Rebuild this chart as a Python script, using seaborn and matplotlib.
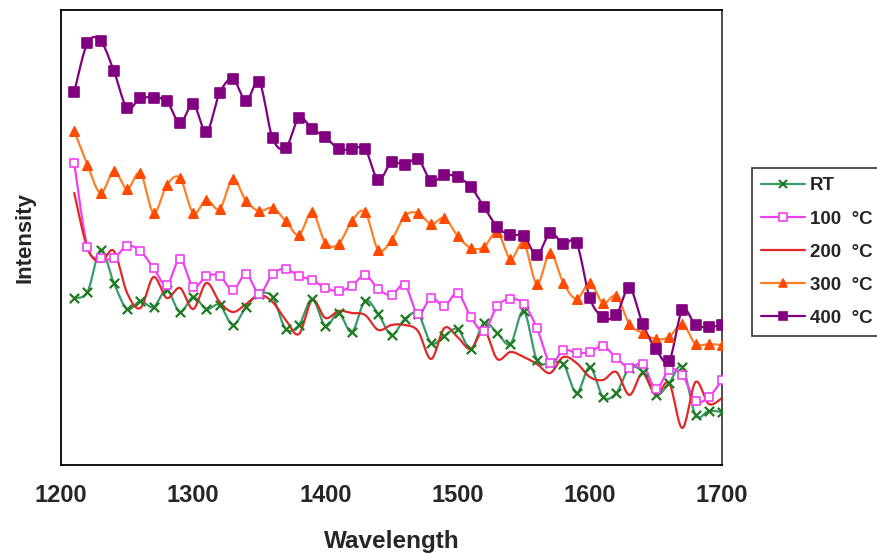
import numpy as np
import pandas as pd
import matplotlib
matplotlib.use("Agg")
import matplotlib.pyplot as plt
from matplotlib.lines import Line2D
import seaborn as sns

# ---------------- data ----------------
wavelength = list(range(1210, 1701, 10))

rt = [167, 173, 215, 182, 156, 164, 158, 175, 153, 168,
      156, 160, 140, 158, 171, 168, 136, 140, 166, 139,
      152, 133, 164, 151, 130, 146, 151, 122, 129, 136,
      116, 142, 132, 121, 154, 105, 102, 101, 72, 98,
      68, 72, 97, 93, 70, 82, 98, 50, 54, 53]

c100 = [302, 218, 207, 207, 219, 214, 197, 180, 206, 178,
        189, 189, 175, 191, 171, 191, 196, 189, 185, 177,
        174, 179, 190, 176, 170, 180, 151, 167, 159, 172,
        148, 134, 159, 166, 161, 137, 102, 115, 112, 113,
        119, 107, 97, 101, 76, 95, 90, 64, 68, 85]

c200 = [272, 217, 203, 214, 172, 157, 188, 167, 177, 156,
        182, 163, 153, 161, 170, 163, 145, 131, 165, 147,
        154, 152, 150, 135, 140, 140, 134, 106, 137, 128,
        116, 135, 106, 113, 108, 101, 92, 108, 102, 88,
        85, 93, 70, 92, 70, 82, 37, 83, 61, 67]

c300 = [334, 300, 272, 294, 276, 292, 252, 280, 287, 252,
        265, 256, 286, 264, 254, 257, 244, 230, 253, 222,
        221, 244, 253, 215, 225, 249, 252, 241, 247, 229,
        217, 218, 233, 206, 222, 181, 212, 182, 166, 182,
        162, 169, 141, 132, 126, 128, 141, 121, 121, 120]

c400 = [373, 422, 424, 394, 357, 367, 367, 364, 342, 361,
        333, 372, 386, 364, 383, 327, 317, 347, 336, 328,
        316, 316, 316, 285, 303, 300, 306, 284, 290, 288,
        278, 258, 238, 230, 229, 210, 232, 221, 222, 167,
        148, 150, 177, 141, 116, 104, 155, 140, 138, 140]

series_names = ["RT", "100  \u00b0C", "200  \u00b0C", "300  \u00b0C", "400  \u00b0C"]
series_values = [rt, c100, c200, c300, c400]

x_ticks = [1200, 1300, 1400, 1500, 1600, 1700]
y_ticks = [0, 91, 182, 273, 364, 455]

# ---------------- styles ----------------
line_colors = ["#3a9a6a", "#f040f0", "#e02828", "#ff7f27", "#800080"]
marker_colors = ["#1f7a1f", "#f040f0", "#ff4a00", "#ff4a00", "#800080"]
marker_face = ["#1f7a1f", "white", None, "#ff4a00", "#800080"]
markers = ["x", "s", None, "^", "s"]
marker_sizes = [45, 30, 0, 45, 45]


def smooth(xs, ys, n=20):
    """Excel-style smoothed line (Catmull-Rom / Bezier with 1/6 tension)."""
    xs = np.asarray(xs, float)
    ys = np.asarray(ys, float)
    P = np.column_stack([xs, ys])
    Pext = np.vstack([P[0], P, P[-1]])
    out = []
    t = np.linspace(0, 1, n, endpoint=False)[:, None]
    for i in range(len(P) - 1):
        p0, p1, p2, p3 = Pext[i], Pext[i + 1], Pext[i + 2], Pext[i + 3]
        c1 = p1 + (p2 - p0) / 6.0
        c2 = p2 - (p3 - p1) / 6.0
        seg = ((1 - t) ** 3) * p1 + 3 * ((1 - t) ** 2) * t * c1 + 3 * (1 - t) * t ** 2 * c2 + t ** 3 * p2
        out.append(seg)
    out.append(P[-1][None, :])
    out = np.vstack(out)
    return out[:, 0], out[:, 1]


sns.set_style("white")
plt.rcParams["font.family"] = ["Liberation Sans", "DejaVu Sans"]
plt.rcParams["font.weight"] = "bold"

fig = plt.figure(figsize=(8.77, 5.56), dpi=100)
ax = fig.add_axes([61 / 877, 1 - 465 / 556, (722 - 61) / 877, (465 - 10) / 556])

for name, vals, lc, mc, mf, mk, ms in zip(series_names, series_values, line_colors,
                                          marker_colors, marker_face, markers, marker_sizes):
    sx, sy = smooth(wavelength, vals)
    sns.lineplot(x=sx, y=sy, ax=ax, color=lc, linewidth=1.6, sort=False, estimator=None)
    if mk is not None:
        df = pd.DataFrame({"wl": wavelength, "v": vals})
        if mk == "x":
            sns.scatterplot(data=df, x="wl", y="v", ax=ax, marker="x", s=ms, color=mc,
                            linewidth=1.6, zorder=3)
        else:
            sns.scatterplot(data=df, x="wl", y="v", ax=ax, marker=mk, s=ms, facecolor=mf,
                            edgecolor=mc, linewidth=1.2, zorder=3)

ax.set_xlim(1200, 1700)
ax.set_ylim(0, 455)
ax.set_xticks(x_ticks)
ax.set_xticklabels([str(v) for v in x_ticks], fontsize=17, fontweight="bold")
ax.set_yticks(y_ticks)
ax.set_yticklabels([])
ax.tick_params(axis="both", direction="out", length=5, color="#b0b0b0", width=1)
ax.tick_params(axis="x", pad=9)
ax.set_xlabel("Wavelength", fontsize=17.5, fontweight="bold", labelpad=16)
ax.set_ylabel("Intensity", fontsize=16, fontweight="bold")
ax.yaxis.set_label_coords(-0.038, 0.5)
for sp in ax.spines.values():
    sp.set_visible(True)
    sp.set_color("black")
    sp.set_linewidth(1.3)
ax.spines["right"].set_color("#404040")

handles = []
for name, lc, mc, mf, mk in zip(series_names, line_colors, marker_colors, marker_face, markers):
    if mk is None:
        h = Line2D([], [], color=lc, lw=1.6)
    elif mk == "x":
        h = Line2D([], [], color=lc, lw=1.6, marker="x", markersize=6, markeredgecolor=mc,
                   markeredgewidth=1.5)
    else:
        h = Line2D([], [], color=lc, lw=1.6, marker=mk, markersize=6, markerfacecolor=mf,
                   markeredgecolor=mc, markeredgewidth=1.2)
    handles.append(h)

leg = fig.legend(handles, series_names, loc="upper left",
                 bbox_to_anchor=(752 / 877, 1 - 168 / 556), borderaxespad=0,
                 frameon=True, fancybox=False,
                 edgecolor="black", handlelength=2.3, handletextpad=0.3, labelspacing=0.85,
                 borderpad=0.5, prop={"size": 13.5, "weight": "bold"})
leg.get_frame().set_linewidth(1.2)

fig.savefig("out.png", dpi=100, facecolor="white")
